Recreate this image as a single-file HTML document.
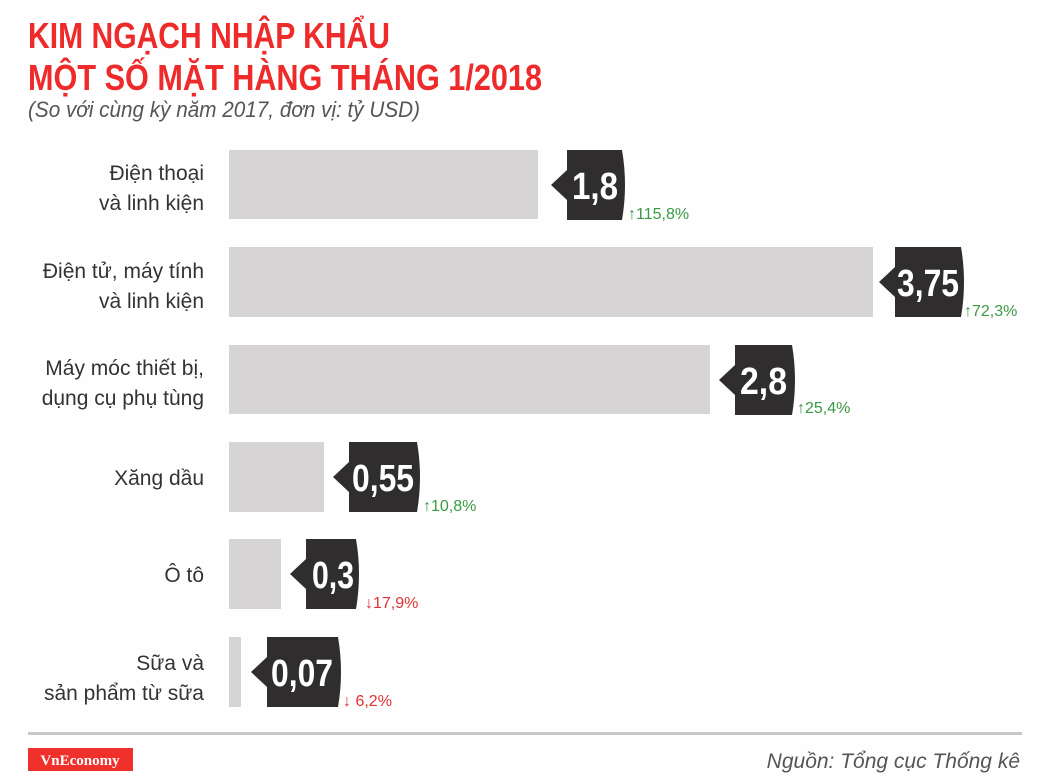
<!DOCTYPE html>
<html><head><meta charset="utf-8"><style>
html,body{margin:0;padding:0;background:#fff;}
svg{display:block}
</style></head><body>
<svg width="1040" height="780" viewBox="0 0 1040 780" xmlns="http://www.w3.org/2000/svg">
<rect width="1040" height="780" fill="#fefefe"/>
<g font-family="'Liberation Sans Narrow','Liberation Sans',sans-serif" font-weight="bold" fill="#ee2a2a" font-size="36">
<text x="28" y="48" textLength="362" lengthAdjust="spacingAndGlyphs">KIM NGẠCH NHẬP KHẨU</text>
<text x="28" y="90" textLength="514" lengthAdjust="spacingAndGlyphs">MỘT SỐ MẶT HÀNG THÁNG 1/2018</text>
</g>
<text x="28" y="117" font-family="'Liberation Sans Narrow','Liberation Sans',sans-serif" font-style="italic" font-size="22" fill="#555" textLength="392" lengthAdjust="spacingAndGlyphs">(So với cùng kỳ năm 2017, đơn vị: tỷ USD)</text>

<g font-family="'Liberation Sans','Liberation Sans Narrow',sans-serif" font-size="21" fill="#333" text-anchor="end">
<text x="204" y="180">Điện thoại</text><text x="204" y="210">và linh kiện</text>
<text x="204" y="278">Điện tử, máy tính</text><text x="204" y="308">và linh kiện</text>
<text x="204" y="375">Máy móc thiết bị,</text><text x="204" y="405">dụng cụ phụ tùng</text>
<text x="204" y="485">Xăng dầu</text>
<text x="204" y="582">Ô tô</text>
<text x="204" y="670">Sữa và</text><text x="204" y="700">sản phẩm từ sữa</text>
</g>

<g fill="#d6d4d5">
<rect x="229" y="150" width="309" height="69"/>
<rect x="229" y="247" width="644" height="70"/>
<rect x="229" y="345" width="481" height="69"/>
<rect x="229" y="442" width="95" height="70"/>
<rect x="229" y="539" width="52" height="70"/>
<rect x="229" y="637" width="12" height="70"/>
</g>

<g fill="#2f2d2e">
<path d="M567,150 L622,150 Q628,185 622,220 L567,220 L567,200 L551,185 L567,170 Z"/>
<path d="M895,247 L961,247 Q967,282 961,317 L895,317 L895,297 L879,282 L895,267 Z"/>
<path d="M735,345 L792,345 Q798,380 792,415 L735,415 L735,395 L719,380 L735,365 Z"/>
<path d="M349,442 L417,442 Q423,477 417,512 L349,512 L349,492 L333,477 L349,462 Z"/>
<path d="M306,539 L356,539 Q362,574 356,609 L306,609 L306,589 L290,574 L306,559 Z"/>
<path d="M267,637 L338,637 Q344,672 338,707 L267,707 L267,687 L251,672 L267,657 Z"/>
</g>
<g font-family="'Liberation Sans Narrow','Liberation Sans',sans-serif" font-weight="bold" font-size="38" fill="#fff" lengthAdjust="spacingAndGlyphs">
<text x="572" y="199" textLength="46" lengthAdjust="spacingAndGlyphs">1,8</text>
<text x="897" y="296" textLength="62" lengthAdjust="spacingAndGlyphs">3,75</text>
<text x="740" y="394" textLength="47" lengthAdjust="spacingAndGlyphs">2,8</text>
<text x="352" y="491" textLength="62" lengthAdjust="spacingAndGlyphs">0,55</text>
<text x="312" y="588" textLength="42" lengthAdjust="spacingAndGlyphs">0,3</text>
<text x="271" y="686" textLength="62" lengthAdjust="spacingAndGlyphs">0,07</text>
</g>
<g font-family="'Liberation Sans','Liberation Sans Narrow',sans-serif" font-size="16">
<text x="628" y="219" fill="#3a9a44"><tspan font-weight="bold">↑</tspan>115,8%</text>
<text x="964" y="316" fill="#3a9a44"><tspan font-weight="bold">↑</tspan>72,3%</text>
<text x="797" y="413" fill="#3a9a44"><tspan font-weight="bold">↑</tspan>25,4%</text>
<text x="423" y="511" fill="#3a9a44"><tspan font-weight="bold">↑</tspan>10,8%</text>
<text x="365" y="608" fill="#e03030"><tspan font-weight="bold">↓</tspan>17,9%</text>
<text x="343" y="706" fill="#e03030"><tspan font-weight="bold">↓</tspan> 6,2%</text>
</g>

<rect x="28" y="732" width="994" height="3" fill="#c8c8c8"/>
<rect x="28" y="748" width="105" height="23" fill="#f0302a"/>
<text x="80" y="765" text-anchor="middle" font-family="'Liberation Serif',serif" font-weight="bold" font-size="15" fill="#fff">VnEconomy</text>
<text x="1020" y="768" text-anchor="end" font-family="'Liberation Sans','Liberation Sans Narrow',sans-serif" font-style="italic" font-size="21" fill="#555">Nguồn: Tổng cục Thống kê</text>
</svg>
</body></html>
